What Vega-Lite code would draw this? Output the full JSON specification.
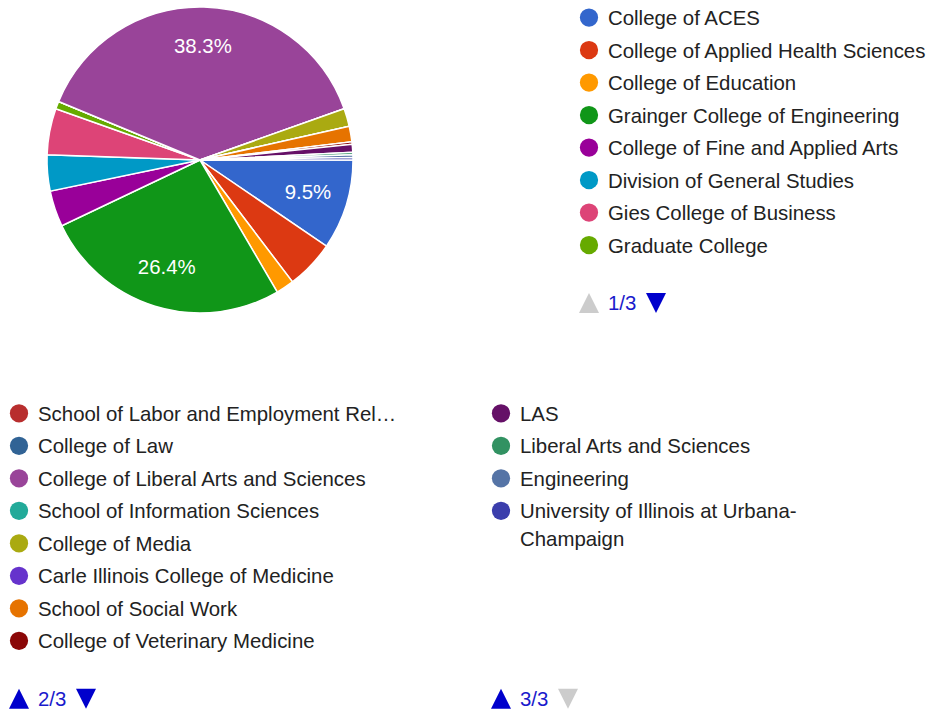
{
  "$schema": "https://vega.github.io/schema/vega-lite/v6.json",
  "padding": 0,
  "background": "white",
  "spacing": 70.75,
  "config": {"view": {"stroke": null}, "font": "Liberation Sans"},
  "datasets": {
    "depts": [
      {"name": "College of ACES", "count": 35},
      {"name": "College of Applied Health Sciences", "count": 19},
      {"name": "College of Education", "count": 7},
      {"name": "Grainger College of Engineering", "count": 97},
      {"name": "College of Fine and Applied Arts", "count": 14},
      {"name": "Division of General Studies", "count": 14},
      {"name": "Gies College of Business", "count": 18},
      {"name": "Graduate College", "count": 3},
      {"name": "School of Labor and Employment Relations", "count": 0},
      {"name": "College of Law", "count": 0},
      {"name": "College of Liberal Arts and Sciences", "count": 141},
      {"name": "School of Information Sciences", "count": 0},
      {"name": "College of Media", "count": 7},
      {"name": "Carle Illinois College of Medicine", "count": 0},
      {"name": "School of Social Work", "count": 6},
      {"name": "College of Veterinary Medicine", "count": 1},
      {"name": "LAS", "count": 3},
      {"name": "Liberal Arts and Sciences", "count": 1},
      {"name": "Engineering", "count": 1},
      {"name": "University of Illinois at Urbana-Champaign", "count": 1}
    ],
    "pages": [
      {"page": 0, "label": "1/3", "up": false, "down": true},
      {"page": 1, "label": "2/3", "up": true, "down": true},
      {"page": 2, "label": "3/3", "up": true, "down": false}
    ]
  },
  "vconcat": [
    {
      "hconcat": [
        {
          "width": 400,
          "height": 320,
          "data": {"name": "depts"},
          "transform": [
            {"window": [{"op": "row_number", "as": "idx"}]},
            {"joinaggregate": [{"op": "sum", "field": "count", "as": "total"}]},
            {"calculate": "datum.count / datum.total", "as": "pct"},
            {"calculate": "datum.pct > 0.09 ? format(datum.pct, '.1%') : ''", "as": "label"}
          ],
          "encoding": {
            "theta": {"field": "count", "type": "quantitative", "stack": true, "scale": {"range": [1.5707963, 7.8539816]}},
            "order": {"field": "idx", "type": "quantitative"}
          },
          "layer": [
            {
              "mark": {"type": "arc", "radius": 153, "stroke": "white", "strokeWidth": 1.5},
              "encoding": {
                "color": {
                  "field": "name", "type": "nominal", "legend": null,
                  "scale": {
                    "domain": ["College of ACES", "College of Applied Health Sciences", "College of Education", "Grainger College of Engineering", "College of Fine and Applied Arts", "Division of General Studies", "Gies College of Business", "Graduate College", "School of Labor and Employment Relations", "College of Law", "College of Liberal Arts and Sciences", "School of Information Sciences", "College of Media", "Carle Illinois College of Medicine", "School of Social Work", "College of Veterinary Medicine", "LAS", "Liberal Arts and Sciences", "Engineering", "University of Illinois at Urbana-Champaign"],
                    "range": ["#3366cc", "#dc3912", "#ff9900", "#109618", "#990099", "#0099c6", "#dd4477", "#66aa00", "#b82e2e", "#316395", "#994499", "#22aa99", "#aaaa11", "#6633cc", "#e67300", "#8b0707", "#651067", "#329262", "#5574a6", "#3b3eac"]
                  }
                }
              }
            },
            {
              "mark": {"type": "text", "radius": 113, "fontSize": 20.4, "fill": "white", "align": "center", "baseline": "middle"},
              "encoding": {
                "detail": {"field": "name", "type": "nominal"},
                "text": {"field": "label", "type": "nominal"}
              }
            }
          ]
        },
        {
          "width": 38,
          "height": 325,
          "layer": [
            {
              "data": {"name": "depts"},
              "transform": [
                {"window": [{"op": "row_number", "as": "idx"}]},
                {"calculate": "floor((datum.idx - 1) / 8)", "as": "page"},
                {"calculate": "(datum.idx - 1) % 8", "as": "row"},
                {"calculate": "replace(datum.name, 'Urbana-', 'Urbana-\\n')", "as": "display"},
                {"filter": "datum.page == 0"}
              ],
              "encoding": {
                "y": {"field": "row", "type": "quantitative", "axis": null, "scale": {"domain": [-0.54, 9.46], "reverse": true, "nice": false, "zero": false}}
              },
              "layer": [
                {
                  "mark": {"type": "point", "shape": "circle", "filled": true, "opacity": 1, "size": 333, "strokeWidth": 0},
                  "encoding": {
                    "color": {
                      "field": "name", "type": "nominal", "legend": null,
                      "scale": {
                        "domain": ["College of ACES", "College of Applied Health Sciences", "College of Education", "Grainger College of Engineering", "College of Fine and Applied Arts", "Division of General Studies", "Gies College of Business", "Graduate College", "School of Labor and Employment Relations", "College of Law", "College of Liberal Arts and Sciences", "School of Information Sciences", "College of Media", "Carle Illinois College of Medicine", "School of Social Work", "College of Veterinary Medicine", "LAS", "Liberal Arts and Sciences", "Engineering", "University of Illinois at Urbana-Champaign"],
                        "range": ["#3366cc", "#dc3912", "#ff9900", "#109618", "#990099", "#0099c6", "#dd4477", "#66aa00", "#b82e2e", "#316395", "#994499", "#22aa99", "#aaaa11", "#6633cc", "#e67300", "#8b0707", "#651067", "#329262", "#5574a6", "#3b3eac"]
                      }
                    }
                  }
                },
                {
                  "mark": {"type": "text", "align": "left", "baseline": "alphabetic", "dx": 19, "dy": 7.5, "fontSize": 20.4, "fill": "#222222", "limit": 362, "lineBreak": "\n", "lineHeight": 28},
                  "encoding": {"text": {"field": "display", "type": "nominal"}}
                }
              ]
            },
            {
              "data": {"name": "pages"},
              "transform": [{"filter": "datum.page == 0"}],
              "encoding": {"y": {"datum": 8.78, "type": "quantitative"}},
              "layer": [
                {
                  "mark": {"type": "point", "shape": "M0,-1L1,1L-1,1Z", "size": 400, "filled": true, "opacity": 1, "strokeWidth": 0},
                  "encoding": {"fill": {"condition": {"test": "datum.up", "value": "#0000cc"}, "value": "#cccccc"}}
                },
                {
                  "mark": {"type": "text", "align": "left", "baseline": "alphabetic", "dx": 19, "dy": 7.5, "fontSize": 20.4, "fill": "#1a1acc"},
                  "encoding": {"text": {"field": "label", "type": "nominal"}}
                },
                {
                  "mark": {"type": "point", "shape": "M-1,-1L1,-1L0,1Z", "size": 400, "filled": true, "opacity": 1, "strokeWidth": 0, "xOffset": 67},
                  "encoding": {"fill": {"condition": {"test": "datum.down", "value": "#0000cc"}, "value": "#cccccc"}}
                }
              ]
            }
          ]
        }
      ],
      "spacing": 170,
      "bounds": "flush"
    },
    {
      "hconcat": [
        {
          "width": 38,
          "height": 325,
          "layer": [
            {
              "data": {"name": "depts"},
              "transform": [
                {"window": [{"op": "row_number", "as": "idx"}]},
                {"calculate": "floor((datum.idx - 1) / 8)", "as": "page"},
                {"calculate": "(datum.idx - 1) % 8", "as": "row"},
                {"calculate": "replace(datum.name, 'Urbana-', 'Urbana-\\n')", "as": "display"},
                {"filter": "datum.page == 1"}
              ],
              "encoding": {
                "y": {"field": "row", "type": "quantitative", "axis": null, "scale": {"domain": [-0.54, 9.46], "reverse": true, "nice": false, "zero": false}}
              },
              "layer": [
                {
                  "mark": {"type": "point", "shape": "circle", "filled": true, "opacity": 1, "size": 333, "strokeWidth": 0},
                  "encoding": {
                    "color": {
                      "field": "name", "type": "nominal", "legend": null,
                      "scale": {
                        "domain": ["College of ACES", "College of Applied Health Sciences", "College of Education", "Grainger College of Engineering", "College of Fine and Applied Arts", "Division of General Studies", "Gies College of Business", "Graduate College", "School of Labor and Employment Relations", "College of Law", "College of Liberal Arts and Sciences", "School of Information Sciences", "College of Media", "Carle Illinois College of Medicine", "School of Social Work", "College of Veterinary Medicine", "LAS", "Liberal Arts and Sciences", "Engineering", "University of Illinois at Urbana-Champaign"],
                        "range": ["#3366cc", "#dc3912", "#ff9900", "#109618", "#990099", "#0099c6", "#dd4477", "#66aa00", "#b82e2e", "#316395", "#994499", "#22aa99", "#aaaa11", "#6633cc", "#e67300", "#8b0707", "#651067", "#329262", "#5574a6", "#3b3eac"]
                      }
                    }
                  }
                },
                {
                  "mark": {"type": "text", "align": "left", "baseline": "alphabetic", "dx": 19, "dy": 7.5, "fontSize": 20.4, "fill": "#222222", "limit": 362, "lineBreak": "\n", "lineHeight": 28},
                  "encoding": {"text": {"field": "display", "type": "nominal"}}
                }
              ]
            },
            {
              "data": {"name": "pages"},
              "transform": [{"filter": "datum.page == 1"}],
              "encoding": {"y": {"datum": 8.78, "type": "quantitative"}},
              "layer": [
                {
                  "mark": {"type": "point", "shape": "M0,-1L1,1L-1,1Z", "size": 400, "filled": true, "opacity": 1, "strokeWidth": 0},
                  "encoding": {"fill": {"condition": {"test": "datum.up", "value": "#0000cc"}, "value": "#cccccc"}}
                },
                {
                  "mark": {"type": "text", "align": "left", "baseline": "alphabetic", "dx": 19, "dy": 7.5, "fontSize": 20.4, "fill": "#1a1acc"},
                  "encoding": {"text": {"field": "label", "type": "nominal"}}
                },
                {
                  "mark": {"type": "point", "shape": "M-1,-1L1,-1L0,1Z", "size": 400, "filled": true, "opacity": 1, "strokeWidth": 0, "xOffset": 67},
                  "encoding": {"fill": {"condition": {"test": "datum.down", "value": "#0000cc"}, "value": "#cccccc"}}
                }
              ]
            }
          ]
        },
        {
          "width": 38,
          "height": 325,
          "layer": [
            {
              "data": {"name": "depts"},
              "transform": [
                {"window": [{"op": "row_number", "as": "idx"}]},
                {"calculate": "floor((datum.idx - 1) / 8)", "as": "page"},
                {"calculate": "(datum.idx - 1) % 8", "as": "row"},
                {"calculate": "replace(datum.name, 'Urbana-', 'Urbana-\\n')", "as": "display"},
                {"filter": "datum.page == 2"}
              ],
              "encoding": {
                "y": {"field": "row", "type": "quantitative", "axis": null, "scale": {"domain": [-0.54, 9.46], "reverse": true, "nice": false, "zero": false}}
              },
              "layer": [
                {
                  "mark": {"type": "point", "shape": "circle", "filled": true, "opacity": 1, "size": 333, "strokeWidth": 0},
                  "encoding": {
                    "color": {
                      "field": "name", "type": "nominal", "legend": null,
                      "scale": {
                        "domain": ["College of ACES", "College of Applied Health Sciences", "College of Education", "Grainger College of Engineering", "College of Fine and Applied Arts", "Division of General Studies", "Gies College of Business", "Graduate College", "School of Labor and Employment Relations", "College of Law", "College of Liberal Arts and Sciences", "School of Information Sciences", "College of Media", "Carle Illinois College of Medicine", "School of Social Work", "College of Veterinary Medicine", "LAS", "Liberal Arts and Sciences", "Engineering", "University of Illinois at Urbana-Champaign"],
                        "range": ["#3366cc", "#dc3912", "#ff9900", "#109618", "#990099", "#0099c6", "#dd4477", "#66aa00", "#b82e2e", "#316395", "#994499", "#22aa99", "#aaaa11", "#6633cc", "#e67300", "#8b0707", "#651067", "#329262", "#5574a6", "#3b3eac"]
                      }
                    }
                  }
                },
                {
                  "mark": {"type": "text", "align": "left", "baseline": "alphabetic", "dx": 19, "dy": 7.5, "fontSize": 20.4, "fill": "#222222", "limit": 362, "lineBreak": "\n", "lineHeight": 28},
                  "encoding": {"text": {"field": "display", "type": "nominal"}}
                }
              ]
            },
            {
              "data": {"name": "pages"},
              "transform": [{"filter": "datum.page == 2"}],
              "encoding": {"y": {"datum": 8.78, "type": "quantitative"}},
              "layer": [
                {
                  "mark": {"type": "point", "shape": "M0,-1L1,1L-1,1Z", "size": 400, "filled": true, "opacity": 1, "strokeWidth": 0},
                  "encoding": {"fill": {"condition": {"test": "datum.up", "value": "#0000cc"}, "value": "#cccccc"}}
                },
                {
                  "mark": {"type": "text", "align": "left", "baseline": "alphabetic", "dx": 19, "dy": 7.5, "fontSize": 20.4, "fill": "#1a1acc"},
                  "encoding": {"text": {"field": "label", "type": "nominal"}}
                },
                {
                  "mark": {"type": "point", "shape": "M-1,-1L1,-1L0,1Z", "size": 400, "filled": true, "opacity": 1, "strokeWidth": 0, "xOffset": 67},
                  "encoding": {"fill": {"condition": {"test": "datum.down", "value": "#0000cc"}, "value": "#cccccc"}}
                }
              ]
            }
          ]
        }
      ],
      "spacing": 444,
      "bounds": "flush"
    }
  ]
}
